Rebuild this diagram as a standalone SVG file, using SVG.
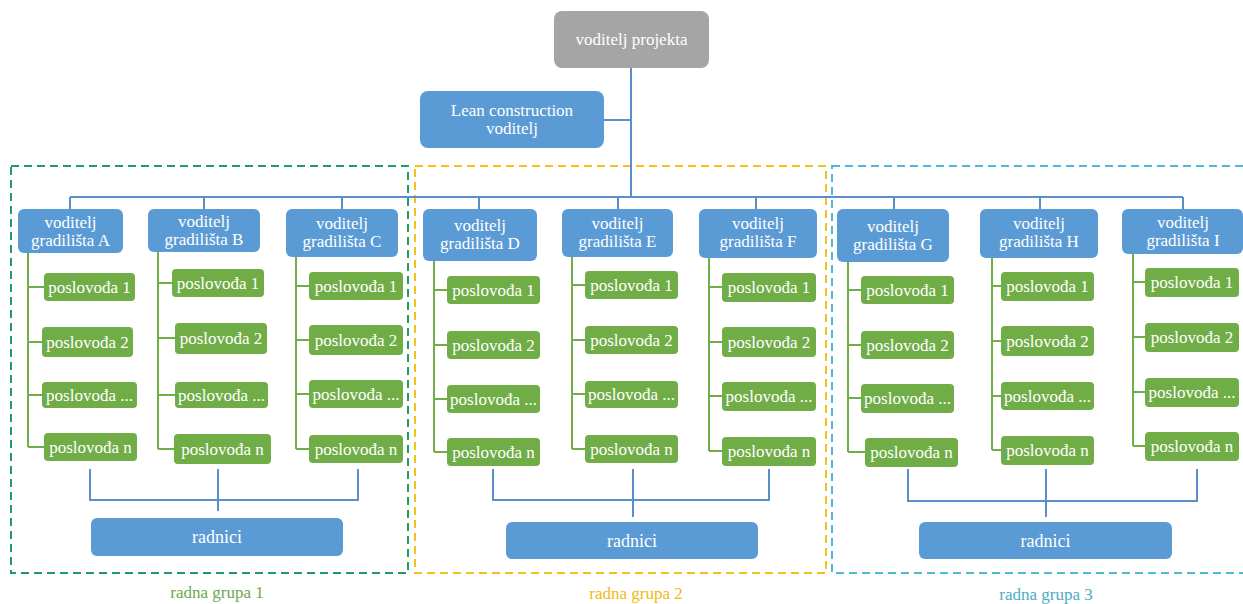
<svg xmlns="http://www.w3.org/2000/svg" width="1243" height="604" viewBox="0 0 1243 604">
  <style>
    text { font-family: "Liberation Serif", Tinos, "Noto Serif", FreeSerif, "Times New Roman", Times, "DejaVu Serif", serif; font-size: 17px; fill: #ffffff; text-anchor: middle; }
    .top rect { fill: #a5a5a5; }
    .blue rect { fill: #5b9bd5; }
    .fm rect { fill: #70ad47; }
    .wire { stroke: #5b8fca; stroke-width: 2; fill: none; }
    .branch { stroke: #70ad47; stroke-width: 2; fill: none; }
    .zone { fill: none; stroke-width: 2; stroke-dasharray: 8 5; }
    .lbl { font-size: 17px; }
    .rad text { font-size: 18px; }
  </style>

  <!-- working-group frames -->
  <g id="zones">
    <rect class="zone" x="11" y="166" width="397" height="407" stroke="#1e9e62"/>
    <rect class="zone" x="415" y="166" width="411" height="407" stroke="#f2c21b"/>
    <rect class="zone" x="832" y="166" width="420" height="407" stroke="#4fb8d4"/>
    <text class="lbl" x="217" y="598" style="fill:#6aa84f">radna grupa 1</text>
    <text class="lbl" x="636" y="599" style="fill:#efb915">radna grupa 2</text>
    <text class="lbl" x="1046" y="600" style="fill:#4bacc6">radna grupa 3</text>
  </g>

  <!-- connectors -->
  <g id="connectors">
    <path class="wire" d="M631 68 V197 M604 120 H631 M70 197 H1183"/>
    <path class="wire" d="M70 197 V209 M204 197 V209 M342 197 V209 M479 197 V209 M618 197 V209 M756 197 V209 M894 197 V209 M1040 197 V209 M1183 197 V209"/>
    <!-- foreman branches -->
    <path class="branch" d="M28 253 V447 M28 287 H44 M28 342 H42 M28 395 H42 M28 447 H44"/>
    <path class="branch" d="M158 252 V449 M158 283 H172 M158 338 H175 M158 395 H175 M158 449 H174"/>
    <path class="branch" d="M296 257 V449 M296 286 H309 M296 340 H309 M296 394 H309 M296 449 H309"/>
    <path class="branch" d="M434 261 V452 M434 290 H447 M434 345 H447 M434 399 H447 M434 452 H447"/>
    <path class="branch" d="M572 257 V449 M572 285 H585 M572 340 H585 M572 394 H585 M572 449 H585"/>
    <path class="branch" d="M709 258 V451 M709 287 H722 M709 342 H722 M709 396 H722 M709 451 H722"/>
    <path class="branch" d="M848 262 V452 M848 290 H861 M848 345 H861 M848 398 H861 M848 452 H865"/>
    <path class="branch" d="M992 258 V450 M992 286 H1001 M992 341 H1001 M992 396 H1001 M992 450 H1001"/>
    <path class="branch" d="M1133 254 V446 M1133 282 H1145 M1133 337 H1145 M1133 392 H1145 M1133 446 H1145"/>
    <!-- merge into worker pools -->
    <path class="wire" d="M90 469 V500 H358 V469 M218 469 V511"/>
    <path class="wire" d="M493 469 V500 H769 V469 M633 469 V517"/>
    <path class="wire" d="M908 469 V501 H1197 V469 M1046 469 V517"/>
  </g>

  <g id="voditelj-projekta" class="top">
    <rect x="554" y="11" width="155" height="57" rx="8"/>
    <text x="631.5" y="45">voditelj projekta</text>
  </g>
  <g id="lean-voditelj" class="blue">
    <rect x="420" y="91" width="184" height="57" rx="8"/>
    <text x="512" y="116">Lean construction</text>
    <text x="512" y="134">voditelj</text>
  </g>

  <!-- site managers -->
  <g id="gradiliste-a" class="blue"><rect x="18" y="209" width="105" height="44" rx="6"/><text x="70.5" y="228">voditelj</text><text x="70.5" y="246">gradilišta A</text></g>
  <g id="gradiliste-b" class="blue"><rect x="148" y="209" width="112" height="43" rx="6"/><text x="204" y="227">voditelj</text><text x="204" y="245">gradilišta B</text></g>
  <g id="gradiliste-c" class="blue"><rect x="286" y="209" width="112" height="48" rx="6"/><text x="342" y="229">voditelj</text><text x="342" y="247">gradilišta C</text></g>
  <g id="gradiliste-d" class="blue"><rect x="423" y="209" width="114" height="52" rx="6"/><text x="480" y="231">voditelj</text><text x="480" y="249">gradilišta D</text></g>
  <g id="gradiliste-e" class="blue"><rect x="562" y="209" width="111" height="48" rx="6"/><text x="617.5" y="229">voditelj</text><text x="617.5" y="247">gradilišta E</text></g>
  <g id="gradiliste-f" class="blue"><rect x="699" y="209" width="118" height="49" rx="6"/><text x="758" y="229">voditelj</text><text x="758" y="247">gradilišta F</text></g>
  <g id="gradiliste-g" class="blue"><rect x="837" y="209" width="112" height="53" rx="6"/><text x="893" y="232">voditelj</text><text x="893" y="250">gradilišta G</text></g>
  <g id="gradiliste-h" class="blue"><rect x="980" y="209" width="118" height="49" rx="6"/><text x="1039" y="229">voditelj</text><text x="1039" y="247">gradilišta H</text></g>
  <g id="gradiliste-i" class="blue"><rect x="1122" y="209" width="121" height="45" rx="6"/><text x="1183" y="228">voditelj</text><text x="1183" y="246">gradilišta I</text></g>

  <!-- foremen, site A -->
  <g id="a-p1" class="fm"><rect x="44" y="273" width="91" height="28" rx="4"/><text x="89.5" y="293">poslovođa 1</text></g>
  <g id="a-p2" class="fm"><rect x="42" y="327" width="91" height="30" rx="4"/><text x="87.5" y="348">poslovođa 2</text></g>
  <g id="a-p3" class="fm"><rect x="42" y="382" width="95" height="26" rx="4"/><text x="89.5" y="401">poslovođa ...</text></g>
  <g id="a-pn" class="fm"><rect x="44" y="433" width="93" height="28" rx="4"/><text x="90.5" y="453">poslovođa n</text></g>
  <!-- site B -->
  <g id="b-p1" class="fm"><rect x="172" y="269" width="92" height="28" rx="4"/><text x="218" y="289">poslovođa 1</text></g>
  <g id="b-p2" class="fm"><rect x="175" y="323" width="92" height="31" rx="4"/><text x="221" y="344">poslovođa 2</text></g>
  <g id="b-p3" class="fm"><rect x="175" y="382" width="93" height="26" rx="4"/><text x="221.5" y="401">poslovođa ...</text></g>
  <g id="b-pn" class="fm"><rect x="174" y="434" width="97" height="30" rx="4"/><text x="222.5" y="455">poslovođa n</text></g>
  <!-- site C -->
  <g id="c-p1" class="fm"><rect x="309" y="272" width="94" height="28" rx="4"/><text x="356" y="292">poslovođa 1</text></g>
  <g id="c-p2" class="fm"><rect x="309" y="325" width="94" height="30" rx="4"/><text x="356" y="346">poslovođa 2</text></g>
  <g id="c-p3" class="fm"><rect x="309" y="380" width="94" height="28" rx="4"/><text x="356" y="400">poslovođa ...</text></g>
  <g id="c-pn" class="fm"><rect x="309" y="435" width="94" height="28" rx="4"/><text x="356" y="455">poslovođa n</text></g>
  <!-- site D -->
  <g id="d-p1" class="fm"><rect x="447" y="276" width="93" height="28" rx="4"/><text x="493.5" y="296">poslovođa 1</text></g>
  <g id="d-p2" class="fm"><rect x="447" y="331" width="93" height="28" rx="4"/><text x="493.5" y="351">poslovođa 2</text></g>
  <g id="d-p3" class="fm"><rect x="447" y="385" width="93" height="28" rx="4"/><text x="493.5" y="405">poslovođa ...</text></g>
  <g id="d-pn" class="fm"><rect x="447" y="438" width="93" height="28" rx="4"/><text x="493.5" y="458">poslovođa n</text></g>
  <!-- site E -->
  <g id="e-p1" class="fm"><rect x="585" y="271" width="93" height="28" rx="4"/><text x="631.5" y="291">poslovođa 1</text></g>
  <g id="e-p2" class="fm"><rect x="585" y="326" width="93" height="28" rx="4"/><text x="631.5" y="346">poslovođa 2</text></g>
  <g id="e-p3" class="fm"><rect x="585" y="381" width="93" height="27" rx="4"/><text x="631.5" y="400">poslovođa ...</text></g>
  <g id="e-pn" class="fm"><rect x="585" y="435" width="93" height="28" rx="4"/><text x="631.5" y="455">poslovođa n</text></g>
  <!-- site F -->
  <g id="f-p1" class="fm"><rect x="722" y="273" width="94" height="29" rx="4"/><text x="769" y="293">poslovođa 1</text></g>
  <g id="f-p2" class="fm"><rect x="722" y="327" width="94" height="30" rx="4"/><text x="769" y="348">poslovođa 2</text></g>
  <g id="f-p3" class="fm"><rect x="722" y="382" width="94" height="29" rx="4"/><text x="769" y="402">poslovođa ...</text></g>
  <g id="f-pn" class="fm"><rect x="722" y="437" width="94" height="29" rx="4"/><text x="769" y="457">poslovođa n</text></g>
  <!-- site G -->
  <g id="g-p1" class="fm"><rect x="861" y="276" width="93" height="28" rx="4"/><text x="907.5" y="296">poslovođa 1</text></g>
  <g id="g-p2" class="fm"><rect x="861" y="331" width="93" height="28" rx="4"/><text x="907.5" y="351">poslovođa 2</text></g>
  <g id="g-p3" class="fm"><rect x="861" y="384" width="93" height="29" rx="4"/><text x="907.5" y="404">poslovođa ...</text></g>
  <g id="g-pn" class="fm"><rect x="865" y="438" width="93" height="29" rx="4"/><text x="911.5" y="458">poslovođa n</text></g>
  <!-- site H -->
  <g id="h-p1" class="fm"><rect x="1001" y="272" width="93" height="29" rx="4"/><text x="1047.5" y="292">poslovođa 1</text></g>
  <g id="h-p2" class="fm"><rect x="1001" y="326" width="93" height="30" rx="4"/><text x="1047.5" y="347">poslovođa 2</text></g>
  <g id="h-p3" class="fm"><rect x="1001" y="382" width="93" height="28" rx="4"/><text x="1047.5" y="402">poslovođa ...</text></g>
  <g id="h-pn" class="fm"><rect x="1001" y="436" width="93" height="29" rx="4"/><text x="1047.5" y="456">poslovođa n</text></g>
  <!-- site I -->
  <g id="i-p1" class="fm"><rect x="1145" y="268" width="94" height="29" rx="4"/><text x="1192" y="288">poslovođa 1</text></g>
  <g id="i-p2" class="fm"><rect x="1145" y="323" width="94" height="29" rx="4"/><text x="1192" y="343">poslovođa 2</text></g>
  <g id="i-p3" class="fm"><rect x="1145" y="378" width="94" height="29" rx="4"/><text x="1192" y="398">poslovođa ...</text></g>
  <g id="i-pn" class="fm"><rect x="1145" y="432" width="94" height="29" rx="4"/><text x="1192" y="452">poslovođa n</text></g>

  <!-- worker pools -->
  <g id="radnici-1" class="blue rad"><rect x="91" y="518" width="252" height="38" rx="6"/><text x="217" y="543">radnici</text></g>
  <g id="radnici-2" class="blue rad"><rect x="506" y="522" width="252" height="37" rx="6"/><text x="632" y="547">radnici</text></g>
  <g id="radnici-3" class="blue rad"><rect x="919" y="522" width="253" height="37" rx="6"/><text x="1045.5" y="547">radnici</text></g>
</svg>
